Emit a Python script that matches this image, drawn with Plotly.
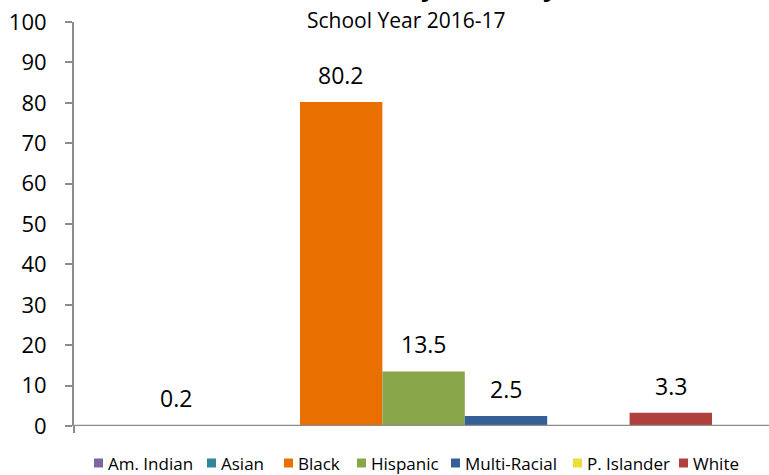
import plotly.graph_objects as go

groups = ["Am. Indian", "Asian", "Black", "Hispanic", "Multi-Racial", "P. Islander", "White"]
values = [0.2, 0, 80.2, 13.5, 2.5, 0, 3.3]
labels = ["0.2", "", "80.2", "13.5", "2.5", "", "3.3"]
colors = ["#8064A2", "#31859C", "#E97000", "#8AA64A", "#355F96", "#EEDC3A", "#B0403C"]
yticks = [0, 10, 20, 30, 40, 50, 60, 70, 80, 90, 100]
title_text = "Enrollment by Ethnicity"
subtitle_text = "School Year 2016-17"

# layout geometry (pixels)
W, H = 769, 475
L, R, T, B = 74, 0, 22, 49
PW, PH = W - L - R, H - T - B
legend_px = [94, 207, 284, 357, 451, 573, 679]   # left edge of each legend square
legend_y = 463
sq = 9

def px(x):
    return (x - L) / PW

def py(y):
    return (H - B - y) / PH

bargap = 0.17
fig = go.Figure()
for g, v, c in zip(groups, values, colors):
    fig.add_trace(go.Bar(
        name=g, x=[0], y=[v], marker=dict(color=c, line=dict(width=0)),
        hoverinfo="y+name", showlegend=False,
    ))

fig.update_layout(
    width=W, height=H,
    margin=dict(l=L, r=R, t=T, b=B),
    paper_bgcolor="white", plot_bgcolor="white",
    barmode="group", bargap=bargap, bargroupgap=0,
    font=dict(family="Open Sans, Liberation Sans, sans-serif", color="#000"),
    showlegend=False,
    xaxis=dict(range=[-0.503, 0.497], showticklabels=False, showline=False,
               showgrid=False, zeroline=False, fixedrange=True),
    yaxis=dict(range=[0, 100], tickvals=yticks, showgrid=False, zeroline=False,
               showline=True, linecolor="#8c8c8c", linewidth=2,
               ticks="outside", ticklen=7, tickcolor="#8c8c8c", tickwidth=1.5,
               tickfont=dict(size=22), ticklabelstandoff=14),
)

# data labels above bars
n = len(groups)
for i, (v, lab) in enumerate(zip(values, labels)):
    if lab:
        offs = (i - (n - 1) / 2) * (1 - bargap) / n
        fig.add_annotation(x=offs, y=v, xref="x", yref="y", text=lab, showarrow=False,
                           yanchor="middle", yshift=27, font=dict(size=23))

# x axis baseline + start tick
fig.add_shape(type="line", xref="paper", yref="y", x0=0, x1=1, y0=0, y1=0,
              line=dict(color="#8c8c8c", width=2.5))
fig.add_shape(type="line", xref="paper", yref="paper", x0=0, x1=0, y0=0, y1=py(433),
              line=dict(color="#8c8c8c", width=2))

# custom legend
for g, c, lx in zip(groups, colors, legend_px):
    fig.add_shape(type="rect", xref="paper", yref="paper",
                  x0=px(lx), x1=px(lx + sq), y0=py(legend_y + sq / 2), y1=py(legend_y - sq / 2),
                  fillcolor=c, line=dict(width=0))
    fig.add_annotation(xref="paper", yref="paper", x=px(lx + sq + 3), y=py(legend_y),
                       xanchor="left", yanchor="middle", text=g, showarrow=False,
                       font=dict(size=17))

fig.add_annotation(xref="paper", yref="paper", x=px(406), y=py(20), yanchor="middle",
                   text=subtitle_text, showarrow=False, font=dict(size=21))
fig.add_annotation(xref="paper", yref="paper", x=px(405), y=py(-14), yanchor="middle",
                   text="<b>" + title_text + "</b>", showarrow=False, font=dict(size=26))

fig.write_html("out.html", config={"displayModeBar": False},
               post_script="document.body.style.margin='0';document.body.style.overflow='hidden';")
